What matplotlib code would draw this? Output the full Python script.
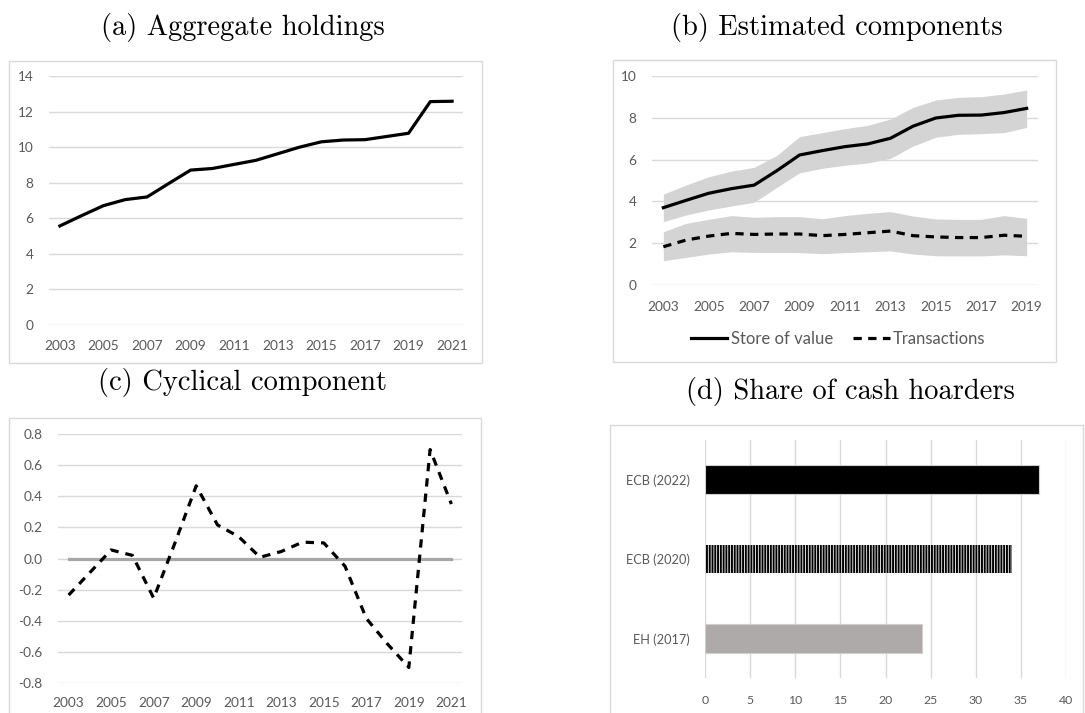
import matplotlib.pyplot as plt
import numpy as np
from matplotlib.lines import Line2D
from matplotlib.patches import Rectangle

plt.rcParams["axes.unicode_minus"] = False
plt.rcParams["hatch.linewidth"] = 1.4

W, H = 1085, 713
GRID = "#d9d9d9"
TICK = "#595959"
TICK_FONT = "Lato"
TITLE_FONT = "cmr10"

# (a) aggregate holdings
years_a = np.arange(2003, 2022)
holdings = [5.57, 6.15, 6.71, 7.05, 7.20, 7.96, 8.71, 8.80, 9.03, 9.26,
            9.63, 10.00, 10.30, 10.40, 10.42, 10.60, 10.78, 12.56, 12.58]

# (b) estimated components with bands
years_b = np.arange(2003, 2020)
store = [3.70, 4.05, 4.39, 4.61, 4.78, 5.47, 6.22, 6.43, 6.62, 6.75,
         7.02, 7.60, 7.99, 8.12, 8.13, 8.25, 8.45]
store_hi = [4.35, 4.78, 5.18, 5.45, 5.63, 6.20, 7.10, 7.29, 7.48, 7.64,
            7.94, 8.50, 8.85, 8.98, 9.01, 9.14, 9.33]
store_lo = [3.03, 3.35, 3.59, 3.78, 3.96, 4.67, 5.37, 5.58, 5.73, 5.84,
            6.06, 6.65, 7.07, 7.21, 7.24, 7.29, 7.54]
trans = [1.83, 2.15, 2.34, 2.47, 2.42, 2.44, 2.44, 2.36, 2.42, 2.50,
         2.58, 2.36, 2.30, 2.27, 2.27, 2.38, 2.33]
trans_hi = [2.55, 2.95, 3.14, 3.32, 3.24, 3.27, 3.27, 3.17, 3.32, 3.43,
            3.51, 3.30, 3.16, 3.14, 3.14, 3.32, 3.19]
trans_lo = [1.16, 1.32, 1.48, 1.59, 1.56, 1.56, 1.55, 1.50, 1.55, 1.59,
            1.63, 1.48, 1.40, 1.39, 1.39, 1.44, 1.40]

# (c) cyclical component
cycle = [-0.235, -0.09, 0.055, 0.02, -0.255, 0.10, 0.467, 0.216, 0.14, 0.008,
         0.045, 0.105, 0.10, -0.05, -0.385, -0.55, -0.70, 0.70, 0.35]
baseline = [0.0] * len(years_a)
cycle_ticks = [-0.8, -0.6, -0.4, -0.2, 0.0, 0.2, 0.4, 0.6, 0.8]

# (d) share of cash hoarders
surveys = ["EH (2017)", "ECB (2020)", "ECB (2022)"]
shares = [24, 34, 37]


def place(left, top, right, bottom):
    return fig.add_axes([left / W, 1 - bottom / H, (right - left) / W, (bottom - top) / H])


def frame(left, top, right, bottom):
    fig.add_artist(Rectangle((left / W, 1 - bottom / H), (right - left) / W, (bottom - top) / H,
                             transform=fig.transFigure, fill=False, edgecolor=GRID, lw=1))


def style(ax, axis="y", size=9.8):
    for s in ax.spines.values():
        s.set_visible(False)
    ax.grid(axis=axis, color=GRID, lw=1)
    ax.set_axisbelow(True)
    ax.tick_params(length=0, colors=TICK, labelsize=size)
    for lab in ax.get_xticklabels() + ax.get_yticklabels():
        lab.set_fontfamily(TICK_FONT)


def year_axis(ax, years):
    ax.set_xlim(years[0] - 0.5, years[-1] + 0.5)
    ax.set_xticks(years[::2])
    ax.set_xticklabels([str(y) for y in years[::2]])


def title(x, y, s):
    fig.text(x / W, 1 - y / H, s, family=TITLE_FONT, fontsize=20.5, ha="center", va="center")


fig = plt.figure(figsize=(W / 100, H / 100), dpi=100)

# panel a
frame(9, 61, 482, 363)
ax = place(49, 76, 463, 325)
ax.plot(years_a, holdings, color="black", lw=2.3)
year_axis(ax, years_a)
ax.set_ylim(0, 14)
ax.set_yticks(range(0, 15, 2))
style(ax)
ax.tick_params(axis="y", pad=11)
ax.tick_params(axis="x", pad=11)
title(243, 27, "(a) Aggregate holdings")

# panel b
frame(613, 60, 1056, 362)
ax = place(652, 76, 1038, 285)
ax.fill_between(years_b, store_lo, store_hi, color="#d4d4d4", lw=0)
ax.fill_between(years_b, trans_lo, trans_hi, color="#d4d4d4", lw=0)
ax.plot(years_b, store, color="black", lw=2.3)
ax.plot(years_b, trans, color="black", lw=2.3, ls=(0, (2.6, 2.0)))
year_axis(ax, years_b)
ax.set_ylim(0, 10)
ax.set_yticks(range(0, 11, 2))
style(ax)
ax.tick_params(axis="y", pad=11)
ax.tick_params(axis="x", pad=11.5)
handles = [Line2D([0], [0], color="black", lw=2.3),
           Line2D([0], [0], color="black", lw=2.3, ls=(0, (2.6, 2.0)))]
fig.legend(handles, ["Store of value", "Transactions"], loc="center",
           bbox_to_anchor=(838 / W, 1 - 339 / H), ncol=2, frameon=False,
           prop={"family": TICK_FONT, "size": 12}, handlelength=2.2,
           handletextpad=0.2, columnspacing=1.2, labelcolor=TICK)
title(837, 27, "(b) Estimated components")

# panel c
frame(9, 418, 481, 730)
ax = place(58, 434, 462, 683)
ax.plot(years_a, baseline, color="#a6a6a6", lw=2.3)
ax.plot(years_a, cycle, color="black", lw=2.3, ls=(0, (2.6, 2.2)))
year_axis(ax, years_a)
ax.set_ylim(-0.8, 0.8)
ax.set_yticks(cycle_ticks)
ax.set_yticklabels([f"{v:.1f}" for v in cycle_ticks])
style(ax)
ax.tick_params(axis="y", pad=11)
ax.tick_params(axis="x", pad=10)
title(243, 383, "(c) Cyclical component")

# panel d
frame(610, 425, 1083, 730)
ax = place(705, 440, 1066, 678)
pos = np.arange(len(surveys))
ax.barh(pos[0], shares[0], height=0.36, color="#aeaaaa", edgecolor="#d0cece", lw=0.8)
ax.barh(pos[1], shares[1], height=0.36, color="white", edgecolor="black", lw=0,
        hatch="||||||")
ax.barh(pos[2], shares[2], height=0.36, color="black", edgecolor="#d0cece", lw=0.8)
ax.set_ylim(-0.5, 2.5)
ax.set_xlim(0, 40)
ax.set_xticks(range(0, 41, 5))
ax.set_yticks(pos)
ax.set_yticklabels(surveys)
style(ax, axis="x", size=8.8)
ax.tick_params(axis="y", pad=11, labelsize=9.2)
ax.tick_params(axis="x", pad=12)
title(850, 392, "(d) Share of cash hoarders")

fig.savefig("out.png", dpi=100)
